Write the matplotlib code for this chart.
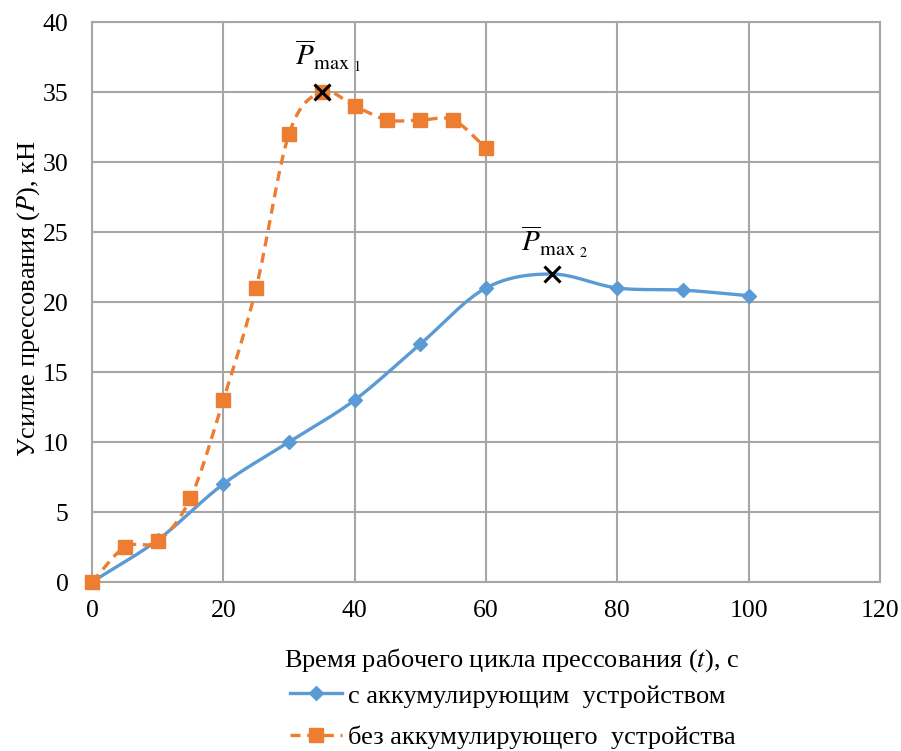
import numpy as np
import matplotlib
matplotlib.use("Agg")
import matplotlib.pyplot as plt

plt.rcParams['font.family'] = ['Liberation Serif', 'DejaVu Serif']
plt.rcParams['mathtext.fontset'] = 'stix'

# with accumulator
t_acc = [0, 10, 20, 30, 40, 50, 60, 70, 80, 90, 100]
p_acc = [0, 3, 7, 10, 13, 17, 21, 22, 21, 20.85, 20.45]
# without accumulator
t_noacc = [0, 5, 10, 15, 20, 25, 30, 35, 40, 45, 50, 55, 60]
p_noacc = [0, 2.5, 2.9, 6, 13, 21, 32, 35, 34, 33, 33, 33, 31]

label_acc = 'с аккумулирующим  устройством'
label_noacc = 'без аккумулирующего  устройства'
xticks = [0, 20, 40, 60, 80, 100, 120]
yticks = [0, 5, 10, 15, 20, 25, 30, 35, 40]

blue = '#5b9bd5'
orange = '#ed7d31'
gridc = '#a6a6a6'


def smooth(x, y, n=20):
    # catmull-rom like excel smoothed line
    x = np.asarray(x, float)
    y = np.asarray(y, float)
    px = np.concatenate([[2 * x[0] - x[1]], x, [2 * x[-1] - x[-2]]])
    py = np.concatenate([[2 * y[0] - y[1]], y, [2 * y[-1] - y[-2]]])
    xs, ys = [], []
    s = np.linspace(0, 1, n)
    for i in range(1, len(px) - 2):
        for arr, out in ((px, xs), (py, ys)):
            p0, p1, p2, p3 = arr[i - 1], arr[i], arr[i + 1], arr[i + 2]
            out.extend(0.5 * (2 * p1 + (-p0 + p2) * s
                              + (2 * p0 - 5 * p1 + 4 * p2 - p3) * s ** 2
                              + (-p0 + 3 * p1 - 3 * p2 + p3) * s ** 3))
    return xs, ys


fig = plt.figure(figsize=(9.01, 7.51), dpi=100)
ax = fig.add_axes([0.1021, 0.225, 0.8746, 0.7457])

imax_acc = int(np.argmax(p_acc))
imax_noacc = int(np.argmax(p_noacc))
dash = (0, (3, 2))

sx, sy = smooth(t_acc, p_acc)
ax.plot(sx, sy, color=blue, lw=2.4, zorder=3, clip_on=False)
mk = [i for i in range(len(t_acc)) if i != imax_acc]
ax.plot([t_acc[i] for i in mk], [p_acc[i] for i in mk], ls='none',
        marker='D', ms=7.5, color=blue, zorder=4, clip_on=False)

sx, sy = smooth(t_noacc, p_noacc)
ax.plot(sx, sy, color=orange, lw=2.4, ls=dash, zorder=3, clip_on=False)
ax.plot(t_noacc, p_noacc, ls='none', marker='s', ms=10, color=orange, zorder=4,
        clip_on=False)

# legend handles
ax.plot([], [], color=blue, lw=2.4, marker='D', ms=7.5, label=label_acc)
ax.plot([], [], color=orange, lw=2.4, ls=dash, marker='s', ms=10, label=label_noacc)

ax.plot([t_acc[imax_acc], t_noacc[imax_noacc]], [p_acc[imax_acc], p_noacc[imax_noacc]],
        ls='none', marker='x', ms=11, mew=2.2, color='black', zorder=5)

ax.text(t_noacc[imax_noacc] + 0.9, p_noacc[imax_noacc] + 2.6,
        r'$\overline{P}_{\mathrm{max}\ _{1}}$', fontsize=21, ha='center', va='center')
ax.text(t_acc[imax_acc] + 0.5, p_acc[imax_acc] + 2.3,
        r'$\overline{P}_{\mathrm{max}\ _{2}}$', fontsize=21, ha='center', va='center')

ax.set_xlim(0, 120)
ax.set_ylim(0, 40)
ax.set_xticks(xticks)
ax.set_yticks(yticks)
ax.grid(True, color=gridc, lw=1.5)
ax.set_axisbelow(True)
for s in ax.spines.values():
    s.set_color(gridc)
    s.set_linewidth(1.5)
ax.tick_params(length=0, labelsize=18.5)
ax.tick_params(axis='x', pad=13)
ax.tick_params(axis='y', pad=17)
ax.set_xlabel('Время рабочего цикла прессования ($t$), с', fontsize=19)
ax.xaxis.set_label_coords(0.533, -0.114)
ax.set_ylabel('Усилие прессования ($P$), кН', fontsize=19)
ax.yaxis.set_label_coords(-0.064, 0.507)

fig.legend(loc='upper left', bbox_to_anchor=(0.322, 0.089), frameon=False,
           fontsize=19, handlelength=1.95, handletextpad=0.25, labelspacing=0.68,
           borderpad=0, borderaxespad=0)

fig.savefig('out.png', dpi=100)
